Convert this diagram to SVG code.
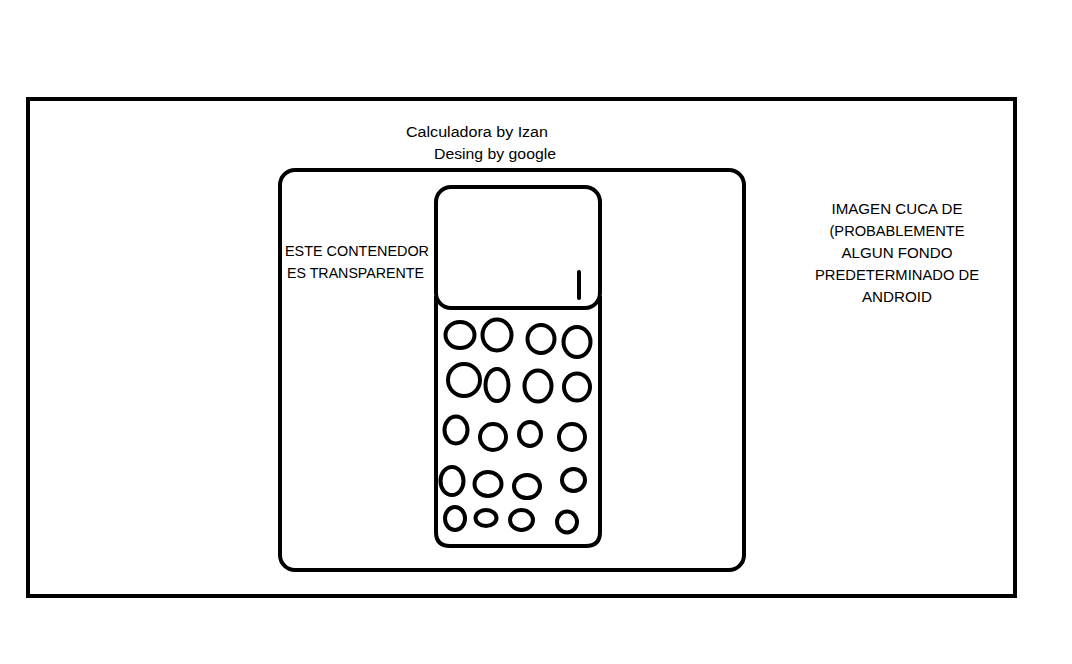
<svg xmlns="http://www.w3.org/2000/svg" width="1072" height="664" viewBox="0 0 1072 664">
<style>
.s{fill:none;stroke:#000;stroke-width:4}
.b{fill:none;stroke:#000;stroke-width:4}
.t{font-family:"Liberation Sans",Arial,sans-serif;font-size:15.5px;fill:#000}
.c{text-anchor:middle}
</style>
<rect x="0" y="0" width="1072" height="664" fill="#fff"/>
<g id="frame"><rect class="s" x="28" y="99" width="987" height="497"/></g>
<g id="title">
<text class="t" x="406" y="137" textLength="142" lengthAdjust="spacingAndGlyphs">Calculadora by Izan</text>
<text class="t" x="434" y="159" textLength="122" lengthAdjust="spacingAndGlyphs">Desing by google</text>
</g>
<g id="container"><rect class="s" x="280" y="170" width="464" height="400" rx="15"/></g>
<g id="container-label">
<text class="t" x="285" y="256" textLength="144" lengthAdjust="spacingAndGlyphs">ESTE CONTENEDOR</text>
<text class="t" x="287" y="278" textLength="137" lengthAdjust="spacingAndGlyphs">ES TRANSPARENTE</text>
</g>
<g id="phone">
<path class="s" d="M436 296 V532 Q436 546 450 546 H586 Q600 546 600 532 V296"/>
<rect class="s" x="436" y="187" width="164" height="121" rx="15"/>
<line x1="579" y1="272" x2="579" y2="298" stroke="#000" stroke-width="4" stroke-linecap="round"/>
</g>
<g id="keys">
<ellipse class="b" cx="460" cy="335" rx="14.5" ry="13"/>
<ellipse class="b" cx="497" cy="335" rx="14.5" ry="15.5"/>
<ellipse class="b" cx="541" cy="339" rx="13.5" ry="14"/>
<ellipse class="b" cx="577" cy="342" rx="13.5" ry="15"/>
<ellipse class="b" cx="464" cy="380" rx="16" ry="16"/>
<ellipse class="b" cx="497" cy="385" rx="11.5" ry="16"/>
<ellipse class="b" cx="538" cy="386" rx="13.5" ry="15.5"/>
<ellipse class="b" cx="577" cy="387" rx="13" ry="13.5"/>
<ellipse class="b" cx="456" cy="430" rx="11.5" ry="13.5"/>
<ellipse class="b" cx="493" cy="437" rx="13" ry="13"/>
<ellipse class="b" cx="530" cy="434" rx="11" ry="12"/>
<ellipse class="b" cx="572" cy="437" rx="13" ry="13"/>
<ellipse class="b" cx="452" cy="481" rx="11.5" ry="14"/>
<ellipse class="b" cx="488" cy="484" rx="13.5" ry="12"/>
<ellipse class="b" cx="527" cy="486.5" rx="13" ry="11.5"/>
<ellipse class="b" cx="573.5" cy="480" rx="11.5" ry="11"/>
<ellipse class="b" cx="455" cy="518.5" rx="10" ry="11.5"/>
<ellipse class="b" cx="486" cy="518" rx="10.5" ry="8"/>
<ellipse class="b" cx="521.5" cy="520" rx="11.5" ry="10"/>
<ellipse class="b" cx="567" cy="522" rx="10" ry="10.5"/>
</g>
<g id="note">
<text class="t c" x="897" y="214" textLength="131" lengthAdjust="spacingAndGlyphs">IMAGEN CUCA DE</text>
<text class="t c" x="897" y="236" textLength="135" lengthAdjust="spacingAndGlyphs">(PROBABLEMENTE</text>
<text class="t c" x="897" y="258" textLength="111" lengthAdjust="spacingAndGlyphs">ALGUN FONDO</text>
<text class="t c" x="897" y="280" textLength="164" lengthAdjust="spacingAndGlyphs">PREDETERMINADO DE</text>
<text class="t c" x="897" y="302" textLength="70" lengthAdjust="spacingAndGlyphs">ANDROID</text>
</g>
</svg>
